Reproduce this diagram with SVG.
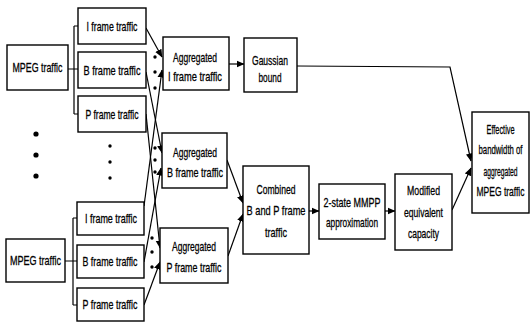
<svg xmlns="http://www.w3.org/2000/svg" width="531" height="323" viewBox="0 0 531 323">
<style>
.box{fill:#fff;stroke:#000;stroke-width:1.4}
.ln{fill:none;stroke:#000;stroke-width:1.2}
.ar{fill:none;stroke:#000;stroke-width:1.2;marker-end:url(#ah)}
text{font-family:"Liberation Sans",Arial,sans-serif;font-size:13.5px;fill:#000;stroke:#000;stroke-width:0.3;text-anchor:middle}
.dot{fill:#000}
</style>
<defs>
<marker id="ah" viewBox="0 0 8 8" refX="7.5" refY="4" markerWidth="8" markerHeight="8" markerUnits="userSpaceOnUse" orient="auto">
<path d="M0,0.5 L8,4 L0,7.5 Z" fill="#000"/>
</marker>
</defs>
<rect width="531" height="323" fill="#fff"/>

<g id="connectors">
<path class="ln" d="M68,69 H78 M74,26 V114 M74,26 H78 M74,114 H78"/>
<path class="ln" d="M65,261 H77 M73,218 V305 M73,218 H77 M73,305 H77"/>
<path class="ar" d="M146,28 L162,57"/>
<path class="ar" d="M144,206 L162,70"/>
<path class="ar" d="M146,72 L162,153"/>
<path class="ar" d="M144,262 L161,168"/>
<path class="ar" d="M146,114 L160,248"/>
<path class="ar" d="M144,305 L160,262"/>
<path class="ar" d="M229,64 H244"/>
<path class="ar" d="M227,160 L243,203"/>
<path class="ar" d="M228,256 L243,214"/>
<path class="ar" d="M309,211 H319"/>
<path class="ar" d="M385,211 H395"/>
<path class="ar" d="M297,66 L450,67 L471,161"/>
<path class="ar" d="M452,210 L471,168"/>
</g>

<g id="dots">
<circle class="dot" cx="36" cy="134" r="2.6"/>
<circle class="dot" cx="36" cy="155" r="2.6"/>
<circle class="dot" cx="36" cy="176" r="2.6"/>
<circle class="dot" cx="110" cy="146" r="1.7"/>
<circle class="dot" cx="110" cy="162" r="1.7"/>
<circle class="dot" cx="110" cy="178" r="1.7"/>
<circle class="dot" cx="155" cy="57" r="1.7"/>
<circle class="dot" cx="155" cy="72" r="1.7"/>
<circle class="dot" cx="155" cy="88" r="1.7"/>
<circle class="dot" cx="155" cy="148" r="1.7"/>
<circle class="dot" cx="155" cy="160" r="1.7"/>
<circle class="dot" cx="155" cy="172" r="1.7"/>
<circle class="dot" cx="152" cy="238" r="1.7"/>
<circle class="dot" cx="152" cy="252" r="1.7"/>
<circle class="dot" cx="152" cy="267" r="1.7"/>
</g>

<g id="mpeg1"><rect class="box" x="7" y="45" width="61" height="45"/><text x="37.5" y="72" textLength="50" lengthAdjust="spacingAndGlyphs">MPEG traffic</text></g>
<g id="iframe1"><rect class="box" x="78" y="8" width="68" height="36"/><text x="112" y="30.5" textLength="51" lengthAdjust="spacingAndGlyphs">I frame traffic</text></g>
<g id="bframe1"><rect class="box" x="78" y="52" width="68" height="36"/><text x="112" y="74.5" textLength="57" lengthAdjust="spacingAndGlyphs">B frame traffic</text></g>
<g id="pframe1"><rect class="box" x="78" y="96" width="68" height="36"/><text x="112" y="118.5" textLength="53" lengthAdjust="spacingAndGlyphs">P frame traffic</text></g>

<g id="mpeg2"><rect class="box" x="6" y="239" width="59" height="43"/><text x="35.5" y="265" textLength="51" lengthAdjust="spacingAndGlyphs">MPEG traffic</text></g>
<g id="iframe2"><rect class="box" x="77" y="202" width="67" height="33"/><text x="111" y="223" textLength="52" lengthAdjust="spacingAndGlyphs">I frame traffic</text></g>
<g id="bframe2"><rect class="box" x="77" y="245" width="67" height="33"/><text x="110" y="266" textLength="55" lengthAdjust="spacingAndGlyphs">B frame traffic</text></g>
<g id="pframe2"><rect class="box" x="77" y="288" width="67" height="33"/><text x="110" y="309" textLength="55" lengthAdjust="spacingAndGlyphs">P frame traffic</text></g>

<g id="aggI"><rect class="box" x="163" y="37" width="66" height="53"/><text x="195" y="61.5" textLength="44" lengthAdjust="spacingAndGlyphs">Aggregated</text><text x="195" y="80.5" textLength="54" lengthAdjust="spacingAndGlyphs">I frame traffic</text></g>
<g id="gauss"><rect class="box" x="244" y="38" width="53" height="54"/><text x="270" y="64.5" textLength="36" lengthAdjust="spacingAndGlyphs">Gaussian</text><text x="270" y="81.5" textLength="23" lengthAdjust="spacingAndGlyphs">bound</text></g>
<g id="aggB"><rect class="box" x="162" y="133" width="65" height="55"/><text x="195" y="156.5" textLength="44" lengthAdjust="spacingAndGlyphs">Aggregated</text><text x="195" y="176.5" textLength="56" lengthAdjust="spacingAndGlyphs">B frame traffic</text></g>
<g id="aggP"><rect class="box" x="160" y="228" width="68" height="55"/><text x="194" y="251" textLength="44" lengthAdjust="spacingAndGlyphs">Aggregated</text><text x="194" y="272" textLength="55" lengthAdjust="spacingAndGlyphs">P frame traffic</text></g>
<g id="combined"><rect class="box" x="243" y="166" width="66" height="88"/><text x="276" y="193.5" textLength="39" lengthAdjust="spacingAndGlyphs">Combined</text><text x="276" y="214.5" textLength="59" lengthAdjust="spacingAndGlyphs">B and P frame</text><text x="276" y="236.5" textLength="22" lengthAdjust="spacingAndGlyphs">traffic</text></g>
<g id="mmpp"><rect class="box" x="319" y="184" width="66" height="55"/><text x="352" y="206.5" textLength="57" lengthAdjust="spacingAndGlyphs">2-state MMPP</text><text x="352" y="226.5" textLength="52" lengthAdjust="spacingAndGlyphs">approximation</text></g>
<g id="modified"><rect class="box" x="395" y="174" width="57" height="76"/><text x="423.5" y="194.5" textLength="33" lengthAdjust="spacingAndGlyphs">Modified</text><text x="423.5" y="216.5" textLength="39" lengthAdjust="spacingAndGlyphs">equivalent</text><text x="423.5" y="237.5" textLength="31" lengthAdjust="spacingAndGlyphs">capacity</text></g>
<g id="effective"><rect class="box" x="472" y="112" width="57" height="101"/>
<g transform="translate(500.5 0) scale(0.6 1)">
<text x="0" y="134.5" textLength="46.7" lengthAdjust="spacingAndGlyphs">Effective</text>
<text x="0" y="154.5" textLength="73.3" lengthAdjust="spacingAndGlyphs">bandwidth of</text>
<text x="0" y="176.5" textLength="56.7" lengthAdjust="spacingAndGlyphs">aggregated</text>
<text x="0" y="196.5" textLength="80" lengthAdjust="spacingAndGlyphs">MPEG traffic</text>
</g></g>
</svg>
